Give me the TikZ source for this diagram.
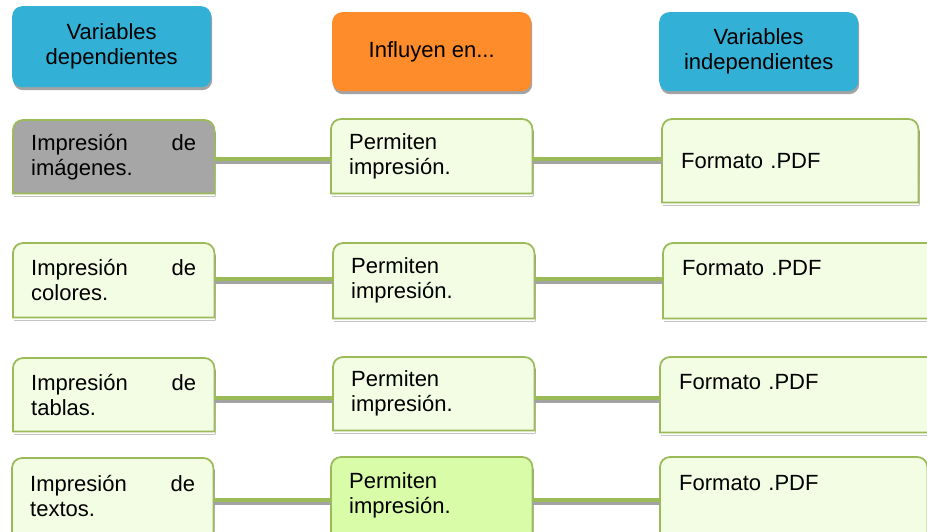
\documentclass[tikz,border=0pt]{standalone}
\usepackage{fontspec}
\setmainfont{Liberation Sans}
\usetikzlibrary{backgrounds,shadows}

\definecolor{headblue}{HTML}{33B0D6}
\definecolor{headorange}{HTML}{FF8C2A}
\definecolor{cellfill}{HTML}{F2FDE4}
\definecolor{cellgreen}{HTML}{D9FCA9}
\definecolor{cellgray}{HTML}{A6A6A6}
\definecolor{edgegreen}{HTML}{9BBB59}
\definecolor{shade}{HTML}{A3A3A3}

% outline with rounded top and square bottom
\newcommand\tabpath[1]{(#1.south west) -- ([yshift=-10pt]#1.north west)
  arc[start angle=180,end angle=90,radius=10pt] -- ([xshift=-10pt]#1.north east)
  arc[start angle=90,end angle=0,radius=10pt] -- (#1.south east) -- cycle}

\tikzset{
  txt/.style={font=\fontsize{22}{25}\selectfont, text=black},
  head/.style={txt, anchor=north west, rounded corners=10pt, align=center, inner sep=0pt,
    minimum width=199pt, drop shadow={shadow xshift=1pt, shadow yshift=-3pt, fill=shade, opacity=1}},
  cell/.style={txt, anchor=north west, align=left, inner xsep=18pt, inner ysep=0pt},
  dep/.style={cell, minimum width=201pt, text width=165pt},
  ind/.style={cell, inner xsep=19pt},
  link/.style={draw=edgegreen, line width=4.5pt,
    preaction={draw=shade, line width=4.5pt, transform canvas={yshift=-3pt}}}
}

\begin{document}
\begin{tikzpicture}[x=1pt,y=-1pt]
  \useasboundingbox (0,0) rectangle (927,531);
  \clip (0,0) rectangle (927,531);

  % headers
  \node[head, fill=headblue, minimum height=81pt] (hdep) at (12,6) {Variables\\dependientes};
  \node[head, fill=headorange, minimum height=79pt] (hinf) at (332,12) {Influyen en...};
  \node[head, fill=headblue, minimum height=79pt] (hind) at (659,12) {Variables\\independientes};

  % rows
  \node[dep, minimum height=73pt] (l1) at (13,120) {Impresión\hfill de\\imágenes.};
  \node[dep, minimum height=74pt] (m1) at (331,119) {Permiten\\impresión.};
  \node[ind, minimum width=256pt, text width=218pt, minimum height=83pt] (r1) at (662,119) {Formato .PDF};

  \node[dep, minimum height=74pt] (l2) at (13,243) {Impresión\hfill de\\colores.};
  \node[dep, minimum height=75pt] (m2) at (333,243) {Permiten\\impresión.};
  \node[ind, minimum width=277pt, text width=239pt, minimum height=75pt] (r2) at (663,243) {Formato .PDF\\\mbox{}};

  \node[dep, minimum height=73pt] (l3) at (13,358) {Impresión\hfill de\\tablas.};
  \node[dep, minimum height=73pt] (m3) at (333,357) {Permiten\\impresión.};
  \node[ind, minimum width=280pt, text width=242pt, minimum height=75pt] (r3) at (660,357) {Formato .PDF\\\mbox{}};

  \node[dep, minimum height=75pt] (l4) at (12,458) {Impresión\hfill de\\textos.};
  \node[dep, minimum height=76pt] (m4) at (331,457) {Permiten\\impresión.};
  \node[ind, minimum width=267pt, text width=229pt, minimum height=76pt] (r4) at (660,457) {Formato .PDF\\\mbox{}};

  % connectors
  \coordinate (c1) at (0,159);
  \coordinate (c2) at (0,279);
  \coordinate (c3) at (0,398);
  \coordinate (c4) at (0,500);
  \foreach \i in {1,...,4} {
    \draw[link] (l\i.east |- c\i) -- (m\i.west |- c\i);
    \draw[link] (m\i.east |- c\i) -- (r\i.west |- c\i);
  }

  \begin{pgfonlayer}{background}
    \foreach \n/\c in {l1/cellgray, m1/cellfill, r1/cellfill, l2/cellfill, m2/cellfill, r2/cellfill,
                       l3/cellfill, m3/cellfill, r3/cellfill, l4/cellfill, m4/cellgreen, r4/cellfill} {
      \fill[shade, transform canvas={xshift=1pt,yshift=-3pt}] \tabpath{\n};
      \filldraw[fill=\c, draw=edgegreen, line width=1.75pt] \tabpath{\n};
    }
  \end{pgfonlayer}
\end{tikzpicture}
\end{document}
